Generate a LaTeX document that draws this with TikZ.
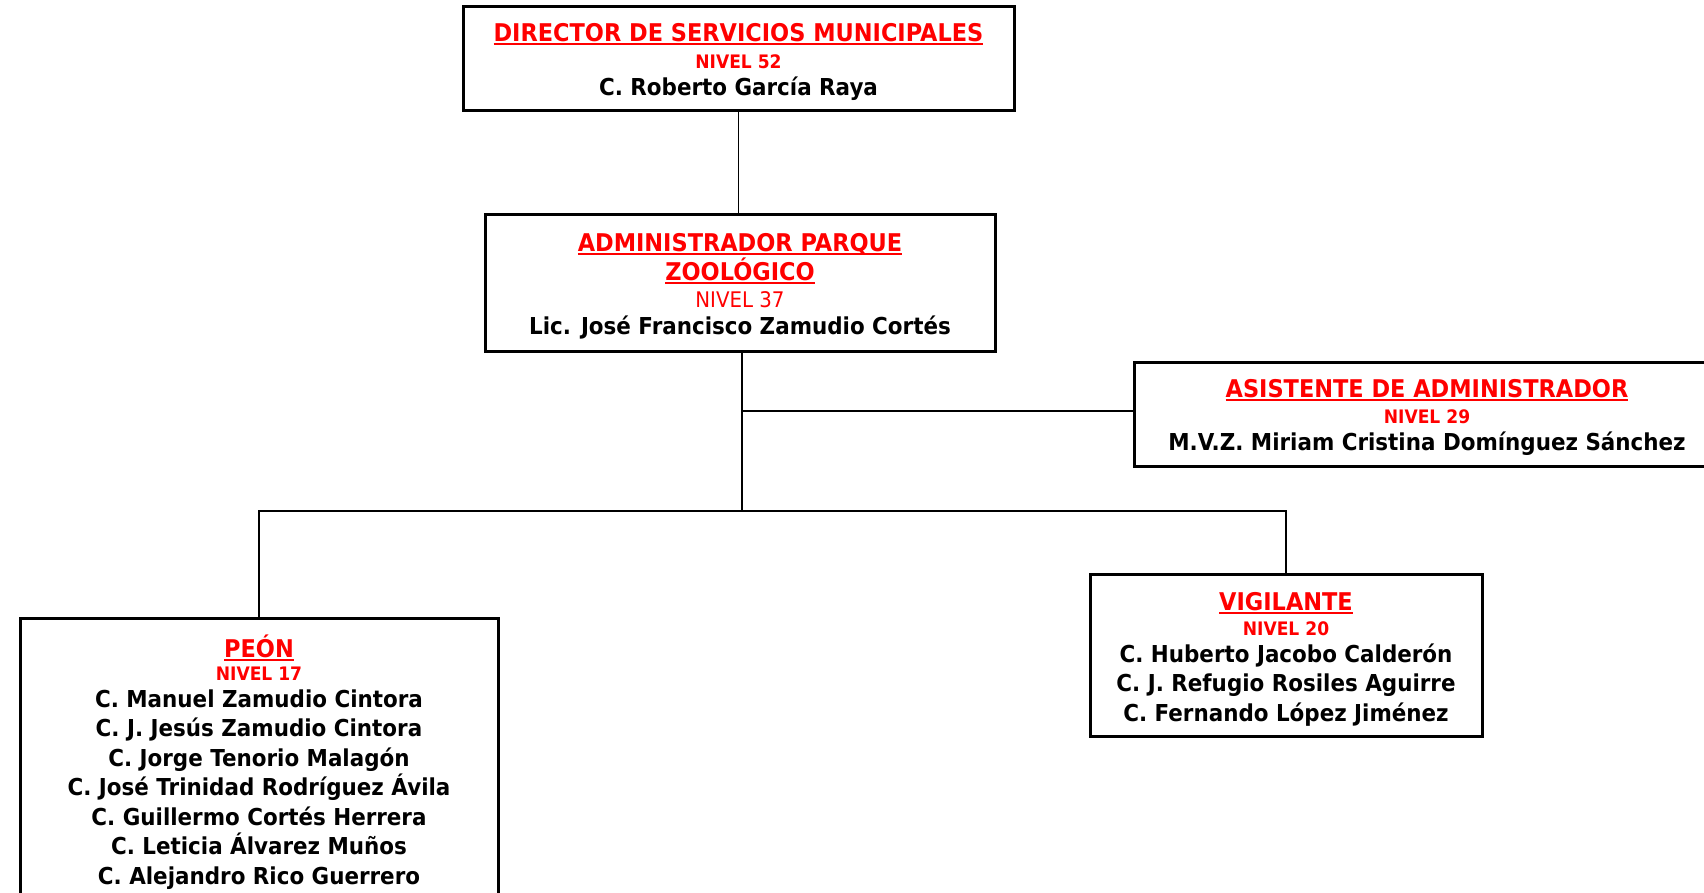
\documentclass[tikz,border=0pt]{standalone}
\usepackage{fontspec}
\setmainfont{DejaVu Sans}[FakeStretch=0.92]
\usepackage{tikz}

\definecolor{nivelred}{RGB}{255,0,0}
\newsavebox{\puestobox}
\newcommand{\puesto}[1]{{\color{nivelred}\fontsize{24.4}{29.5}\selectfont\bfseries
  \sbox{\puestobox}{#1}\rlap{\rule[-3.5pt]{\wd\puestobox}{2pt}}\usebox{\puestobox}}}
\newcommand{\nivel}[1]{{\color{nivelred}\fontsize{18.6}{29.5}\selectfont\bfseries #1}}
\newcommand{\topstrut}{\rule{0pt}{26pt}}

\begin{document}
\begin{tikzpicture}[x=1pt,y=-1pt]
\tikzstyle{box}=[rectangle,align=center,draw,line width=3pt,inner sep=0pt,fill=white,
                 font=\fontsize{23.3}{29.5}\selectfont\bfseries]
\tikzstyle{link}=[line width=1.3pt]
\useasboundingbox (0,0) rectangle (1704,892);

\node[box,minimum width=551,minimum height=104] at(738.5, 58.5) (dir) {\topstrut\puesto{DIRECTOR DE SERVICIOS MUNICIPALES}\\[-3pt]
                         \nivel{NIVEL 52}\\[-2pt]
                         C. Roberto García Raya};
\node[box,minimum width=510,minimum height=137] at(740, 282.5) (adm) {\topstrut\puesto{ADMINISTRADOR PARQUE}\\
                         \puesto{ZOOLÓGICO}\\[-3pt]
                         {\color{nivelred}\fontsize{21.5}{29.5}\selectfont\mdseries NIVEL 37}\\[-2pt]
                         Lic. José Francisco Zamudio Cortés};
\node[box,minimum width=586,minimum height=104] at(1427, 414) (asis) {\topstrut\puesto{ASISTENTE DE ADMINISTRADOR}\\[-4pt]
                         \nivel{NIVEL 29}\\[-2pt]
                         M.V.Z. Miriam Cristina Domínguez Sánchez};
\node[box,minimum width=478,minimum height=288] at(259, 762) (peon) {\puesto{PEÓN}\\[-6pt]
                         \nivel{NIVEL 17}\\[-3pt]
                         C. Manuel Zamudio Cintora\\
                         C. J. Jesús Zamudio Cintora\\
                         C. Jorge Tenorio Malagón\\
                         C. José Trinidad Rodríguez Ávila\\
                         C. Guillermo Cortés Herrera\\
                         C. Leticia Álvarez Muños\\
                         C. Alejandro Rico Guerrero};
\node[box,minimum width=392,minimum height=162] at(1286, 655) (vig) {\topstrut\puesto{VIGILANTE}\\[-4pt]
                         \nivel{NIVEL 20}\\[-3pt]
                         C. Huberto Jacobo Calderón\\
                         C. J. Refugio Rosiles Aguirre\\
                         C. Fernando López Jiménez};

\coordinate (bar) at(742, 511);
\coordinate (asisjoin) at(742, 411);
\draw[link] (dir.south) -- (dir.south |- adm.north);
\draw[link] (adm.south -| bar) -- (bar);
\draw[link] (asisjoin) -- (asisjoin -| asis.west);
\draw[link] (peon.north) |- (bar) -| (vig.north);
\end{tikzpicture}
\end{document}
